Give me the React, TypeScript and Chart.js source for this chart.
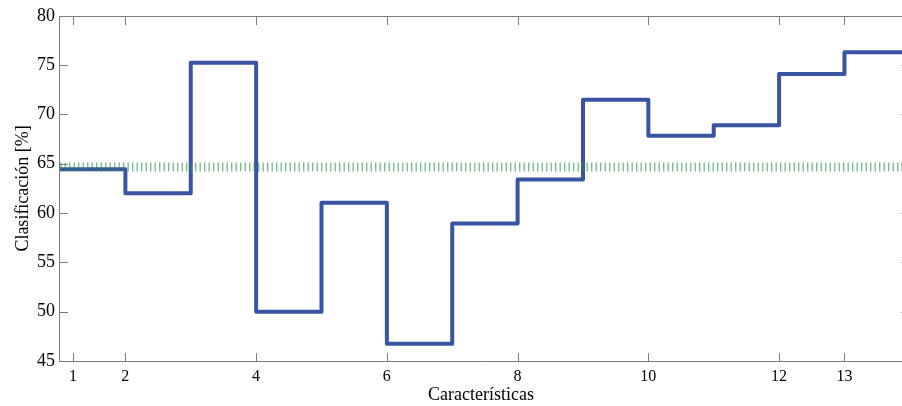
import React, { useEffect, useRef } from "react";
import { Chart, registerables } from "chart.js";

Chart.register(...registerables);

// Stair edges on the feature axis and the accuracy held on each stair
const stepEdges = [1, 2, 3, 4, 5, 6, 7, 8, 9, 10, 11, 12, 13, 14];
const accuracy = [64.45, 62.0, 75.25, 50.0, 61.05, 46.75, 58.95, 63.4, 71.5, 67.85, 68.9, 74.1, 76.3];
const referenceAccuracy = 64.66;

// Axis ticks
const xTickValues = [1.2, 2, 4, 6, 8, 10, 12, 13];
const xTickLabels = ["1", "2", "4", "6", "8", "10", "12", "13"];
const yTickValues = [45, 50, 55, 60, 65, 70, 75, 80];

const X_MIN = 1;
const X_MAX = 13.88;
const Y_MIN = 45;
const Y_MAX = 80;

const FONT = "'Liberation Serif', 'Times New Roman', serif";
const AXIS_GRAY = "#7c7c7c";
const TICK_LEN = 8.5;

// MATLAB-style frame: top and side box lines with inward tick marks
const frameTicks = {
  id: "frameTicks",
  beforeDatasetsDraw(chart: any) {
    const { ctx, chartArea: a, scales } = chart;
    const x = scales.x;
    const y = scales.y;
    const left = Math.round(a.left) - 0.5;
    const top = Math.round(a.top) + 0.5;
    const bottom = Math.round(a.bottom) + 0.5;
    const farRight = x.getPixelForValue(stepEdges[stepEdges.length - 1]);
    ctx.save();
    ctx.strokeStyle = AXIS_GRAY;
    ctx.lineWidth = 1;
    ctx.beginPath();
    ctx.moveTo(left, top);
    ctx.lineTo(a.right, top);
    ctx.moveTo(left, top);
    ctx.lineTo(left, bottom);
    ctx.lineTo(a.right, bottom);
    xTickValues.forEach((v) => {
      const px = Math.round(x.getPixelForValue(v)) + 0.5;
      ctx.moveTo(px, bottom);
      ctx.lineTo(px, bottom - TICK_LEN);
      ctx.moveTo(px, top);
      ctx.lineTo(px, top + TICK_LEN);
    });
    yTickValues.forEach((v) => {
      const py = Math.round(y.getPixelForValue(v)) + 0.5;
      ctx.moveTo(left, py);
      ctx.lineTo(left + TICK_LEN, py);
      ctx.moveTo(farRight, py);
      ctx.lineTo(farRight - TICK_LEN, py);
    });
    ctx.stroke();
    ctx.restore();
  },
};

export default function App() {
  const canvasRef = useRef<HTMLCanvasElement | null>(null);

  useEffect(() => {
    document.body.style.margin = "0";
    document.body.style.overflow = "hidden";
    const canvas = canvasRef.current;
    if (!canvas) return;

    const stairs = stepEdges.map((x, i) => ({
      x,
      y: accuracy[Math.min(i, accuracy.length - 1)],
    }));
    const reference = [
      { x: stepEdges[0], y: referenceAccuracy },
      { x: stepEdges[stepEdges.length - 1], y: referenceAccuracy },
    ];

    const chart = new Chart(canvas, {
      type: "line",
      data: {
        datasets: [
          {
            label: "Referencia",
            data: reference,
            borderColor: "rgba(40, 145, 70, 0.6)",
            borderWidth: 9,
            borderDash: [1.4, 3.1],
            borderCapStyle: "butt",
            pointRadius: 0,
            fill: false,
          },
          {
            label: "Clasificación",
            data: stairs,
            stepped: "before",
            borderColor: "#3a54a4",
            borderWidth: 4,
            borderJoinStyle: "round",
            pointRadius: 0,
            fill: false,
          },
        ],
      },
      options: {
        responsive: false,
        animation: false,
        devicePixelRatio: 1,
        layout: { padding: { top: 14, right: 0, left: 0, bottom: 0 } },
        plugins: {
          legend: { display: false },
          tooltip: { enabled: false },
        },
        scales: {
          x: {
            type: "linear",
            min: X_MIN,
            max: X_MAX,
            grid: { display: false, drawTicks: false },
            border: { display: false },
            afterBuildTicks: (scale: any) => {
              scale.ticks = xTickValues.map((v) => ({ value: v }));
            },
            afterFit: (scale: any) => {
              scale.height = 45;
            },
            ticks: {
              autoSkip: false,
              maxRotation: 0,
              padding: 6,
              color: "#000",
              font: { family: FONT, size: 16 },
              callback: (v: any) => {
                const i = xTickValues.indexOf(Number(v));
                return i >= 0 ? xTickLabels[i] : "";
              },
            },
            title: {
              display: true,
              text: "Características",
              color: "#000",
              font: { family: FONT, size: 18 },
              padding: { top: 0, bottom: 0 },
            },
          },
          y: {
            type: "linear",
            min: Y_MIN,
            max: Y_MAX,
            grid: { display: false, drawTicks: false },
            border: { display: false },
            afterBuildTicks: (scale: any) => {
              scale.ticks = yTickValues.map((v) => ({ value: v }));
            },
            afterFit: (scale: any) => {
              scale.width = 60;
            },
            ticks: {
              padding: 5,
              color: "#000",
              font: { family: FONT, size: 18 },
            },
            title: {
              display: true,
              text: "Clasificación [%]",
              color: "#000",
              font: { family: FONT, size: 18 },
              padding: { top: 12, bottom: 0 },
            },
          },
        },
      },
      plugins: [frameTicks],
    });

    return () => chart.destroy();
  }, []);

  return (
    <div style={{ width: 902, height: 406 }}>
      <canvas ref={canvasRef} width={902} height={406} />
    </div>
  );
}
